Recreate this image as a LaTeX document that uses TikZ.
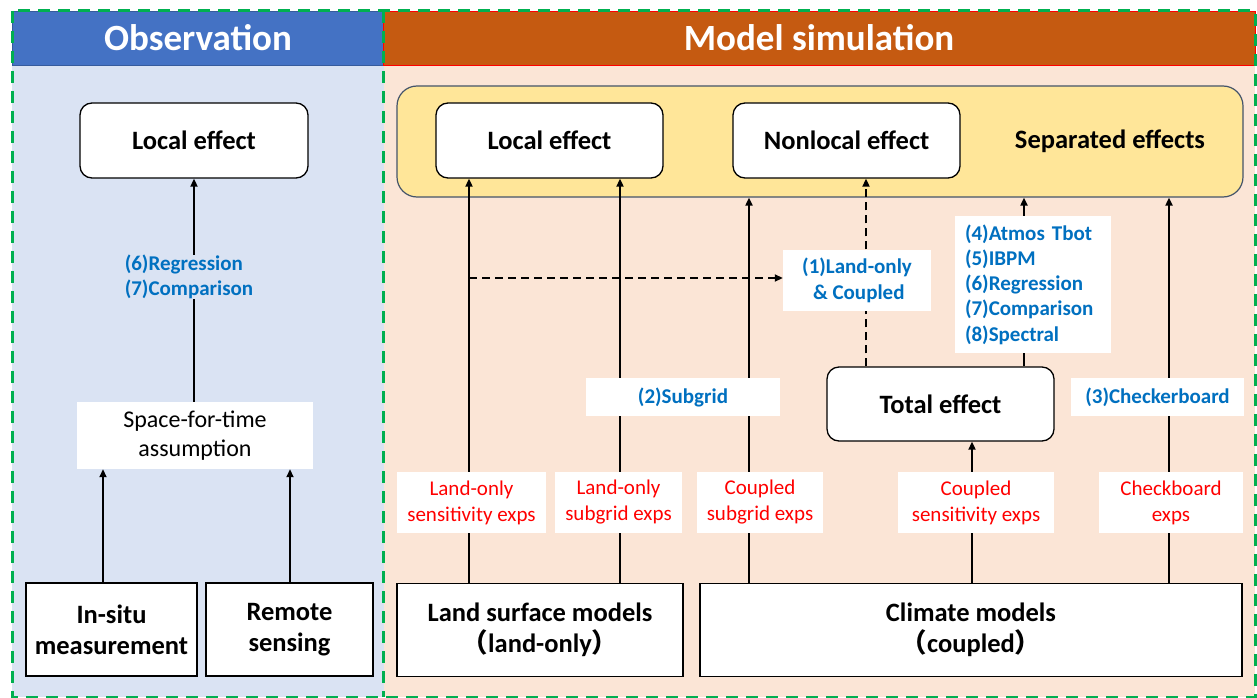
\documentclass[tikz,border=0pt]{standalone}
\usepackage{fontspec}
\setmainfont{Carlito}
\newfontfamily\cjk{Noto Sans CJK SC}
\usetikzlibrary{arrows.meta}
\definecolor{obshead}{HTML}{4472C4}
\definecolor{obsbody}{HTML}{DAE3F3}
\definecolor{modhead}{HTML}{C55A11}
\definecolor{modbody}{HTML}{FBE5D6}
\definecolor{sepfill}{HTML}{FFE699}
\definecolor{sepline}{HTML}{44546A}
\definecolor{gdash}{HTML}{00B050}
\definecolor{mblue}{HTML}{0070C0}
\definecolor{mred}{HTML}{FF0000}
\pgfdeclarelayer{bg}
\pgfdeclarelayer{arrlayer}
\pgfsetlayers{bg,arrlayer,main}
\tikzset{
  rbox/.style={draw=black, line width=1.3pt, rounded corners=12pt, fill=white, inner sep=0pt,
    font=\bfseries\fontsize{26.5}{30}\selectfont},
  sbox/.style={draw=black, line width=1.5pt, fill=white, inner sep=0pt, align=center,
    font=\bfseries\fontsize{26.5}{31}\selectfont},
  redlab/.style={fill=white, inner sep=0pt, align=center, text=mred,
    font=\fontsize{21}{26}\selectfont},
  bluelab/.style={fill=white, inner sep=0pt, text=mblue,
    font=\bfseries\fontsize{21}{25.3}\selectfont},
  arr/.style={-{Triangle[length=8pt,width=7pt]}, line width=1.8pt, black},
  dasharr/.style={arr, dash pattern=on 8pt off 5pt},
  headtxt/.style={text=white, font=\bfseries\fontsize{37}{40}\selectfont, inner sep=0pt},
}
\begin{document}
\begin{tikzpicture}[x=1pt,y=-1pt]
\useasboundingbox (0,0) rectangle (1257,698);
% backgrounds
\begin{pgfonlayer}{bg}
  \fill[obsbody] (12,65) rectangle (383.5,697);
  \fill[modbody] (383.5,65) rectangle (1255,697);
  \draw[obshead!80!black, line width=0.8pt, fill=obshead] (12,11) rectangle (383.5,65);
  \draw[mred, line width=0.8pt, fill=modhead] (383.5,11) rectangle (1255,65);
\end{pgfonlayer}
\node[headtxt] (obst) at (198,38) {Observation};
\node[headtxt] (modt) at (819,38) {Model simulation};

% observation side
\node[rbox, minimum width=228pt, minimum height=75pt] (obslocal) at (194,140.5) {Local effect};
\node[fill=white, inner sep=0pt, align=center, minimum width=236pt, minimum height=67pt,
  font=\fontsize{24}{29}\selectfont] (sft) at (195,435.5) {Space-for-time\\assumption};
\node[sbox, minimum width=171pt, minimum height=93pt] (insitu) at (111.5,629.5) {In-situ\\measurement};
\node[sbox, minimum width=167pt, minimum height=93pt] (remote) at (289.5,629.5) {Remote\\sensing};
\node[bluelab, fill=obsbody, align=left] (obsmeth) at (189,277) {(6)Regression\\(7)Comparison};

\begin{pgfonlayer}{arrlayer}
  \draw[arr] (sft.north -| 194,0) -- (obslocal.south -| 194,0);
  \draw[arr] (insitu.north -| 103,0) -- (sft.south -| 103,0);
  \draw[arr] (remote.north -| 290,0) -- (sft.south -| 290,0);
\end{pgfonlayer}

% model side
\begin{pgfonlayer}{bg}
\node[draw=sepline, line width=1.2pt, fill=sepfill, rounded corners=20pt, inner sep=0pt,
  minimum width=846pt, minimum height=111pt] (sep) at (820,141.5) {};
\end{pgfonlayer}
\node[font=\bfseries\fontsize{26.5}{30}\selectfont, inner sep=0pt] (septxt) at (1110,141) {Separated effects};
\node[rbox, minimum width=227pt, minimum height=75pt] (mlocal) at (549.5,140.5) {Local effect};
\node[rbox, minimum width=227pt, minimum height=75pt] (nonlocal) at (846.5,140.5) {Nonlocal effect};
\node[rbox, minimum width=227pt, minimum height=74pt] (total) at (940.5,404) {Total effect};
\node[sbox, minimum width=286pt, minimum height=93pt] (land) at (540,630) {Land surface models\\{\cjk （}land-only{\cjk ）}};
\node[sbox, minimum width=542pt, minimum height=93pt] (climate) at (971,630) {Climate models\\{\cjk （}coupled{\cjk ）}};

\node[redlab, minimum width=149pt, minimum height=61pt] (l1) at (471.5,502.5) {Land-only\\sensitivity exps};
\node[redlab, minimum width=127pt, minimum height=61pt] (l2) at (618.5,502.5) {Land-only\\subgrid exps};
\node[redlab, minimum width=126pt, minimum height=61pt] (l3) at (760,502.5) {Coupled\\subgrid exps};
\node[redlab, minimum width=156pt, minimum height=61pt] (l4) at (976,502.5) {Coupled\\sensitivity exps};
\node[redlab, minimum width=144pt, minimum height=61pt] (l5) at (1171,502.5) {Checkboard\\exps};

\node[bluelab, minimum width=194pt, minimum height=38pt] (sub) at (683,397) {(2)Subgrid};
\node[bluelab, minimum width=173pt, minimum height=38pt] (chk) at (1157.5,397) {(3)Checkerboard};
\node[bluelab, align=center, minimum width=148pt, minimum height=61pt] (lc) at (857,280.5) {(1)Land-only\\\,\& Coupled};
\node[bluelab, align=left, minimum width=156pt, minimum height=137pt, text width=136pt] (meth) at (1033,284.5)
  {(4)Atmos Tbot\\(5)IBPM\\(6)Regression\\(7)Comparison\\(8)Spectral};

\coordinate (dstart) at (469,278);
\begin{pgfonlayer}{arrlayer}
  \draw[arr] (land.north -| 469,0) -- (mlocal.south -| 469,0);
  \draw[arr] (land.north -| 620,0) -- (mlocal.south -| 620,0);
  \draw[arr] (climate.north -| 749,0) -- (sep.south -| 749,0);
  \draw[arr] (climate.north -| 972,0) -- (total.south -| 972,0);
  \draw[arr] (total.north -| 1024,0) -- (sep.south -| 1024,0);
  \draw[arr] (climate.north -| 1169,0) -- (sep.south -| 1169,0);
  \draw[dasharr] (total.north -| 866,0) -- (nonlocal.south -| 866,0);
  \draw[dasharr] (dstart) -- (dstart -| lc.west);
\end{pgfonlayer}

% green dashed frame
\draw[gdash, line width=3pt, dash pattern=on 12pt off 8pt] (12,11) rectangle (1255,697);
\draw[gdash, line width=3pt, dash pattern=on 12pt off 8pt] (383.5,11) -- (383.5,697);
\end{tikzpicture}
\end{document}
